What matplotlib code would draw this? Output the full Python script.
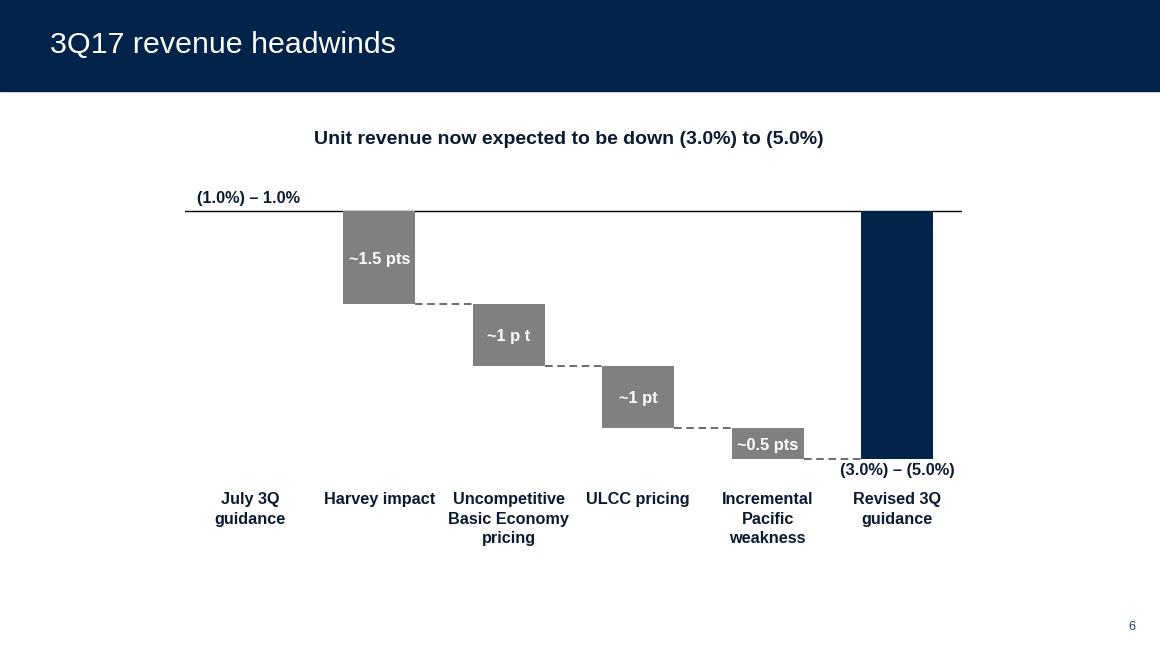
import matplotlib
matplotlib.use("Agg")
import matplotlib.pyplot as plt
from matplotlib.patches import Rectangle

# data (points of unit revenue)
categories = ["July 3Q\nguidance", "Harvey impact", "Uncompetitive\nBasic Economy\npricing",
              "ULCC pricing", "Incremental\nPacific\nweakness", "Revised 3Q\nguidance"]
steps = [1.5, 1.0, 1.0, 0.5]
step_labels = ["~1.5 pts", "~1 p t", "~1 pt", "~0.5 pts"]
start_label = "(1.0%) \u2013 1.0%"
end_label = "(3.0%) \u2013 (5.0%)"

NAVY = "#03244a"
GRAY = "#808080"
TEXT = "#0b1a33"
W, H = 1160, 652

plt.rcParams["font.family"] = ["Liberation Sans", "DejaVu Sans"]
fig = plt.figure(figsize=(W / 100, H / 100), dpi=100)

# header band
fig.patches.append(Rectangle((0, 1 - 91 / H), 1, 91 / H, transform=fig.transFigure,
                             color=NAVY, zorder=0))
fig.text(50 / W, 1 - 45 / H, "3Q17 revenue headwinds", color="white", fontsize=21.9,
         va="center", ha="left")
fig.text(569 / W, 1 - 140 / H, "Unit revenue now expected to be down (3.0%) to (5.0%)",
         color=TEXT, fontsize=14, fontweight="bold", ha="center", va="center")
fig.text(1132 / W, 1 - 627 / H, "6", color="#1f3f7a", fontsize=9, ha="center", va="center")

# chart axes: pixel box 185..962 x 200..470
ax = fig.add_axes([185 / W, 1 - 470 / H, (962 - 185) / W, 270 / H])
ax.set_xlim(-0.5, 5.5)
ax.set_ylim(-4 - 11 / 62, 11 / 62)
for s in ax.spines.values():
    s.set_visible(False)
ax.set_yticks([])
ax.set_xticks(range(len(categories)))
ax.set_xticklabels(categories, fontsize=11.7, fontweight="bold", color=TEXT, linespacing=1.37)
ax.tick_params(axis="x", length=0, pad=16)

bw = 0.555
ax.axhline(0, color="black", lw=1)
level = 0.0
for i, (d, lab) in enumerate(zip(steps, step_labels), start=1):
    top, bot = level, level - d
    ax.bar(i, -d, bottom=top, width=bw, color=GRAY, zorder=2)
    ax.text(i, (top + bot) / 2 - 0.03, lab, color="white", fontsize=11.8, fontweight="bold",
            ha="center", va="center", zorder=3)
    ax.plot([i + bw / 2, i + 1 - bw / 2], [bot, bot], color="#444444", lw=1.1,
            ls=(0, (5, 3)), zorder=1)
    level = bot

n = len(categories) - 1
ax.bar(n, level, bottom=0, width=bw, color=NAVY, zorder=2)
ax.text(-0.41, 0.08, start_label, fontsize=11.7, fontweight="bold", color=TEXT,
        ha="left", va="bottom")
ax.text(n, level - 0.07, end_label, fontsize=11.8, fontweight="bold", color=TEXT,
        ha="center", va="top")

fig.savefig("out.png", dpi=100)
